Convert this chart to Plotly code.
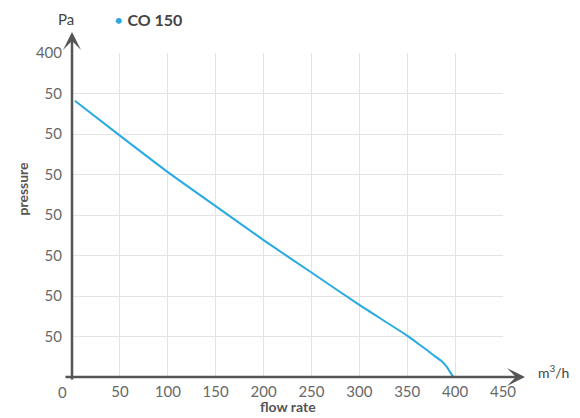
import plotly.graph_objects as go

# data
flow = [3, 50, 100, 150, 200, 250, 300, 350, 365, 372, 379, 386, 391, 394, 396.5, 398.5]
pressure = [341, 298, 253, 211, 169, 129, 89, 51, 38, 32, 25.5, 19.5, 13, 7.5, 3, 0]
series_name = "CO 150"

x_tickvals = [50, 100, 150, 200, 250, 300, 350, 400, 450]
x_ticktext = ["50", "100", "150", "200", "250", "300", "350", "400", "450"]
y_tickvals = [50, 100, 150, 200, 250, 300, 350, 400]
y_ticktext = ["50", "50", "50", "50", "50", "50", "50", "400"]

FONT = "Lato"
AXIS_COLOR = "#555555"
TEXT_COLOR = "#686868"
LINE_COLOR = "#29abe2"
GRID = "#e3e3e3"

fig = go.Figure()
fig.add_trace(go.Scatter(
    x=flow, y=pressure, mode="lines",
    line=dict(color=LINE_COLOR, width=2, shape="spline", smoothing=0.5),
    name=series_name, showlegend=False, hoverinfo="skip",
))

fig.update_layout(
    width=572, height=410,
    margin=dict(l=64, r=77, t=45, b=41),
    paper_bgcolor="white", plot_bgcolor="white",
    font=dict(family=FONT, color=TEXT_COLOR, size=15),
    xaxis=dict(range=[0, 450], tickvals=x_tickvals, ticktext=x_ticktext,
               showgrid=True, gridcolor=GRID, gridwidth=1, zeroline=False,
               showline=False, ticks="", ticklabelstandoff=4,
               tickfont=dict(family=FONT, size=15, color=TEXT_COLOR)),
    yaxis=dict(range=[0, 400], tickvals=y_tickvals, ticktext=y_ticktext,
               showgrid=True, gridcolor=GRID, gridwidth=1, zeroline=False,
               showline=False, ticks="", ticklabelstandoff=9,
               tickfont=dict(family=FONT, size=15, color=TEXT_COLOR)),
)

# axis arrows (paper coordinates, tail offsets in pixels)
fig.add_annotation(x=1.051, y=0, xref="paper", yref="paper", ax=-461, ay=0,
                   text="", showarrow=True, arrowhead=3, arrowsize=1.2, arrowwidth=2.5,
                   arrowcolor=AXIS_COLOR, standoff=0)
fig.add_annotation(x=0, y=1.065, xref="paper", yref="paper", ax=0, ay=349,
                   text="", showarrow=True, arrowhead=3, arrowsize=1.2, arrowwidth=2.5,
                   arrowcolor=AXIS_COLOR, standoff=0)

# zero label on x axis
fig.add_annotation(x=0, y=0, xref="x", yref="y", text="0", showarrow=False,
                   xshift=-10, yshift=-15, font=dict(family=FONT, size=15, color=TEXT_COLOR))

# unit labels
fig.add_annotation(x=1.077, y=0.016, xref="paper", yref="paper", text="m<sup>3</sup>/h",
                   showarrow=False, xanchor="left", yanchor="middle",
                   font=dict(family=FONT, size=14, color="#444444"))
fig.add_annotation(x=-0.014, y=1.105, xref="paper", yref="paper", text="Pa", showarrow=False,
                   xanchor="center", yanchor="middle",
                   font=dict(family=FONT, size=15, color="#444444"))

# axis titles
fig.add_annotation(x=0.5, y=-0.09, xref="paper", yref="paper", text="<b>flow rate</b>",
                   showarrow=False, xanchor="center", yanchor="middle",
                   font=dict(family=FONT, size=14, color=AXIS_COLOR))
fig.add_annotation(x=-0.115, y=0.583, xref="paper", yref="paper", text="<b>pressure</b>",
                   showarrow=False, textangle=-90, xanchor="center", yanchor="middle",
                   font=dict(family=FONT, size=14, color=AXIS_COLOR))

# legend-like label
fig.add_annotation(x=0.093, y=1.102, xref="paper", yref="paper",
                   text=f"<span style='color:{LINE_COLOR}'>•</span> <b>{series_name}</b>",
                   showarrow=False, xanchor="left", yanchor="middle",
                   font=dict(family=FONT, size=16, color="#444444"))

fig.write_html("out.html")
